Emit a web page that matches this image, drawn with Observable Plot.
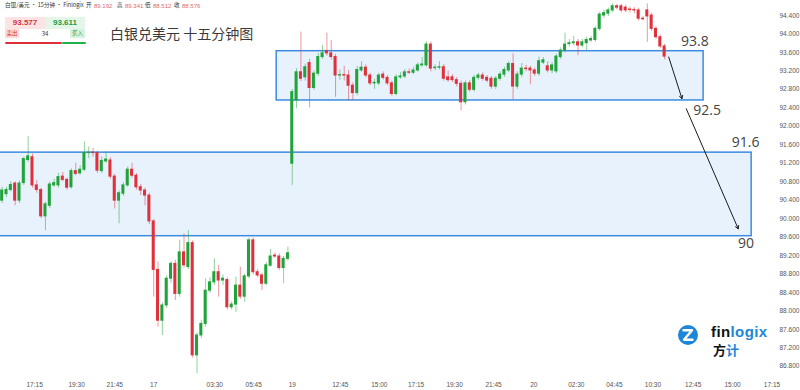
<!DOCTYPE html>
<html><head><meta charset="utf-8">
<script src="https://cdn.jsdelivr.net/npm/d3@7"></script>
<script src="https://cdn.jsdelivr.net/npm/@observablehq/plot@0.6"></script>
<style>
body{margin:0;background:#fff;font-family:"Noto Sans CJK SC","Noto Sans",sans-serif}
#wrap{position:relative;width:800px;height:390px;overflow:hidden;background:#fff}
.abs{position:absolute;white-space:nowrap;line-height:1}
</style></head><body>
<div id="wrap"></div>
<script>
// 15-minute candles (index order)
const opens=[90.39,90.53,90.62,90.76,90.39,90.77,91.27,91.33,90.72,90.62,90.05,90.28,90.72,90.72,90.91,90.84,90.68,91.03,90.98,91.06,91.42,91.43,91.42,91.03,91.24,91.26,90.91,90.39,90.54,90.72,91.06,90.93,90.68,90.61,90.50,89.94,
88.89,87.79,88.12,88.70,89.02,88.37,89.27,88.95,89.47,87.04,87.47,87.72,88.44,88.62,88.84,88.66,88.67,88.08,88.14,88.55,88.31,88.75,89.53,88.84,88.77,88.59,88.98,89.20,89.18,88.93,89.13,
91.19,92.56,93.17,93.06,93.37,92.83,93.14,93.50,93.63,93.58,93.50,93.10,93.11,93.10,92.88,92.72,93.21,93.27,93.10,92.93,92.93,93.12,93.05,92.93,92.70,93.06,93.08,93.17,93.16,93.21,93.32,93.32,93.77,93.26,93.27,93.28,93.06,93.06,93.00,92.92,92.52,92.93,92.79,93.05,
93.10,93.05,93.03,92.86,93.03,93.12,93.21,93.35,92.86,93.12,93.25,93.25,93.21,93.14,93.38,93.30,93.21,93.19,93.50,93.64,93.78,93.80,93.82,93.75,93.80,93.86,93.87,94.11,94.40,94.44,94.51,94.60,94.60,94.57,94.53,94.52,94.51,94.33,94.51,94.40,94.11,93.93,93.73];
const highs=[90.68,90.68,90.80,90.80,90.82,91.33,91.78,91.40,90.83,90.66,90.36,90.79,90.85,90.98,91.00,90.88,91.08,91.20,91.15,91.66,91.55,91.52,91.46,91.34,91.45,91.32,90.96,90.60,90.78,91.12,91.20,90.98,90.74,90.66,90.55,89.98,
89.06,88.18,88.76,89.07,89.10,89.53,89.67,89.74,89.52,87.53,87.80,88.70,88.72,89.13,88.99,88.78,88.72,88.20,88.73,88.95,88.80,89.58,89.58,88.90,88.82,89.05,89.33,89.26,89.24,89.18,89.38,
92.80,93.25,94.04,93.35,93.45,93.20,93.58,93.75,94.02,93.86,93.56,93.22,93.30,93.21,92.94,93.30,93.40,93.33,93.15,93.02,93.15,93.18,93.10,92.98,93.12,93.16,93.23,93.24,93.28,93.38,93.49,93.83,93.83,93.33,93.40,93.34,93.20,93.12,93.06,92.98,92.98,92.99,93.10,93.15,
93.16,93.10,93.08,93.08,93.18,93.28,93.40,93.57,93.18,93.36,93.32,93.30,93.26,93.50,93.49,93.40,93.38,93.56,93.70,94.02,93.88,93.95,93.88,93.88,93.93,93.95,94.16,94.47,94.52,94.56,94.65,94.64,94.64,94.62,94.58,94.57,94.56,94.38,94.65,94.45,94.16,93.98,93.78];
const lows=[90.33,90.46,90.58,90.28,90.33,90.72,91.22,90.66,90.55,90.00,89.74,90.22,90.68,90.66,90.80,90.62,90.64,90.93,90.94,91.02,91.30,91.33,90.98,90.98,91.20,90.86,90.21,89.89,90.48,90.68,90.88,90.62,90.50,90.28,89.87,88.30,
87.65,87.47,88.06,88.60,88.23,88.30,88.93,88.90,86.98,86.64,87.40,87.65,88.38,88.55,88.30,88.55,88.02,88.02,87.97,88.25,88.19,88.70,88.78,88.72,88.44,88.55,88.95,89.14,88.88,88.59,89.08,
90.72,92.38,92.97,92.98,92.40,92.78,93.08,93.45,93.52,93.44,92.63,93.00,92.98,92.56,92.56,92.66,93.17,93.05,92.88,92.80,92.88,93.00,92.88,92.65,92.66,93.02,93.03,93.12,93.12,93.17,93.28,93.28,93.18,93.20,93.22,92.98,92.95,92.95,92.85,92.34,92.46,92.74,92.74,93.00,
92.98,92.94,92.80,92.80,92.98,93.06,93.16,92.58,92.80,93.06,93.18,92.90,93.08,93.08,93.34,93.16,93.14,93.14,93.45,93.59,93.72,93.75,93.53,93.70,93.64,93.82,93.82,94.06,94.34,94.38,94.46,94.52,94.46,94.46,94.46,94.44,94.28,94.28,93.82,94.05,93.88,93.68,93.44];
const closes=[90.61,90.62,90.73,90.39,90.76,91.29,91.35,90.72,90.62,90.05,90.31,90.74,90.77,90.90,90.84,90.67,91.03,90.97,91.06,91.42,91.43,91.42,91.04,91.25,91.28,90.91,90.39,90.55,90.72,91.06,90.93,90.68,90.61,90.50,89.94,88.89,
87.79,88.12,88.70,89.02,88.37,89.27,88.99,89.47,87.04,87.47,87.72,88.44,88.62,88.84,88.66,88.70,88.08,88.14,88.55,88.31,88.75,89.53,88.84,88.77,88.59,88.99,89.18,89.18,88.93,89.13,89.25,
92.74,93.17,93.03,93.28,92.83,93.14,93.50,93.58,93.58,93.50,93.10,93.11,93.10,92.88,92.72,93.22,93.27,93.10,92.93,92.94,93.10,93.05,92.93,92.70,93.06,93.08,93.17,93.16,93.21,93.32,93.34,93.77,93.25,93.27,93.28,93.03,93.00,93.00,92.92,92.52,92.93,92.79,93.05,93.10,
93.03,92.99,92.86,93.03,93.12,93.22,93.35,92.86,93.12,93.25,93.24,93.21,93.14,93.41,93.43,93.21,93.32,93.51,93.64,93.77,93.80,93.82,93.75,93.82,93.87,93.89,94.11,94.42,94.45,94.51,94.60,94.57,94.51,94.51,94.52,94.51,94.33,94.32,94.38,94.11,93.93,93.73,93.51];

// axis ticks
const yTicks=[86.8,87.2,87.6,88.0,88.4,88.8,89.2,89.6,90.0,90.4,90.8,91.2,91.6,92.0,92.4,92.8,93.2,93.6,94.0,94.4];
const xTickIndex=[7.5,17.2,26.0,35.0,49.1,58.1,67.0,78.1,87.1,95.6,104.5,113.5,122.8,132.6,141.4,150.3,159.6,168.7,177.8];
const xTickLabels=["17:15","19:30","21:45","17","03:30","05:45","19","12:45","15:00","17:15","19:30","21:45","20","02:30","04:45","10:30","12:45","15:00","17:15"];

// annotation zones (candle index / price)
const zoneX1=[63.4,-1.5];
const zoneX2=[162.0,173.1];
const zoneLow=[92.56,89.62];
const zoneHigh=[93.627,91.43];
// arrows
const arrowX1=[153.95,158.0];
const arrowY1=[93.50,92.38];
const arrowX2=[157.0,170.0];
const arrowY2=[92.60,89.78];
// level labels
const levelText=["93.8","92.5","91.6","90"];
const levelX=[160.0,162.8,171.7,171.8];
const levelY=[93.83,92.34,91.64,89.455];

const UP="#1fa33a", DOWN="#e0303b";
const candles=opens.map((o,i)=>({i,o,h:highs[i],l:lows[i],c:closes[i]}));
const zones=zoneX1.map((x1,k)=>({x1,x2:zoneX2[k],y1:zoneLow[k],y2:zoneHigh[k]}));
const arrows=arrowX1.map((x1,k)=>({x1,y1:arrowY1[k],x2:arrowX2[k],y2:arrowY2[k]}));
const levels=levelText.map((t,k)=>({t,x:levelX[k],y:levelY[k]}));
const tickMap=new Map(xTickIndex.map((v,k)=>[v,xTickLabels[k]]));

const chart=Plot.plot({
  width:800,height:390,
  marginLeft:0,marginRight:22,marginTop:0,marginBottom:18,
  style:{background:"#fff",fontFamily:"'Liberation Sans',Arial,sans-serif"},
  x:{domain:[-0.385,179.3],axis:null},
  y:{domain:[86.668,94.725],axis:null},
  color:{type:"identity"},
  marks:[
    Plot.rect(zones,{x1:"x1",x2:"x2",y1:"y1",y2:"y2",fill:"#e8f2fc",stroke:"#3a8ce0",strokeWidth:1.5}),
    Plot.ruleX(candles,{x:"i",y1:"l",y2:"h",stroke:d=>d.c>=d.o?UP:DOWN,strokeOpacity:0.5,strokeWidth:1}),
    Plot.rect(candles,{x1:d=>d.i-0.35,x2:d=>d.i+0.35,y1:d=>Math.min(d.o,d.c),y2:d=>Math.max(d.o,d.c),
      fill:d=>d.c>=d.o?UP:DOWN,insetTop:-0.5,insetBottom:-0.5}),
    Plot.arrow(arrows,{x1:"x1",y1:"y1",x2:"x2",y2:"y2",stroke:"#1a1a1a",strokeWidth:1,headLength:5}),
    Plot.text(levels,{x:"x",y:"y",text:"t",fontSize:14,fill:"#444",fontFamily:"'Open Sans','Noto Sans',sans-serif"}),
    Plot.axisY({anchor:"right",ticks:yTicks,tickSize:0,tickPadding:1,tickFormat:d3.format(".3f"),fontSize:6.5,fill:"#555"}),
    Plot.axisX({anchor:"bottom",ticks:xTickIndex,tickSize:0,tickPadding:10,tickFormat:d=>tickMap.get(d),fontSize:6.5,fill:"#555"})
  ]
});
const wrap=document.getElementById("wrap");
wrap.appendChild(chart);

function add(html,style){const d=document.createElement("div");d.className="abs";d.innerHTML=html;Object.assign(d.style,style);wrap.appendChild(d);return d;}
// header line
add("白银/美元 · 15分钟 · Finlogix",{left:"5px",top:"2.5px",fontSize:"5.6px",color:"#333",fontFamily:"'Noto Sans CJK SC','Liberation Sans',sans-serif"});
const hdr=[["开",86,"89.192",94],["高",117,"89.341",125],["低",145,"88.512",153],["收",174,"88.576",182]];
hdr.forEach(([k,kx,v,vx])=>{add(k,{left:kx+"px",top:"2.5px",fontSize:"5.6px",color:"#333"});add(v,{left:vx+"px",top:"2.5px",fontSize:"6px",color:"#e06a6a",fontFamily:"'Liberation Sans',Arial"});});
// bid/ask
add("93.577",{left:"5px",top:"17px",width:"40px",height:"12px",lineHeight:"12px",textAlign:"center",background:"#fde4e4",color:"#d6343c",fontSize:"8px",fontWeight:"bold",fontFamily:"'Liberation Sans',Arial"});
add("93.611",{left:"45px",top:"17px",width:"40px",height:"12px",lineHeight:"12px",textAlign:"center",background:"#e4f6e8",color:"#1c9c3c",fontSize:"8px",fontWeight:"bold",fontFamily:"'Liberation Sans',Arial"});
add("卖出",{left:"5px",top:"29px",width:"14px",height:"9px",lineHeight:"9px",textAlign:"center",background:"#fbdcdc",color:"#d6343c",fontSize:"5.5px"});
add("34",{left:"38px",top:"29px",width:"14px",height:"9px",lineHeight:"9px",textAlign:"center",color:"#333",fontSize:"6px"});
add("买入",{left:"70px",top:"29px",width:"15px",height:"9px",lineHeight:"9px",textAlign:"center",background:"#d8f1de",color:"#1c9c3c",fontSize:"5.5px"});
add("",{left:"5px",top:"41.5px",width:"57px",height:"2.6px",background:"#df2f38",borderRadius:"1px"});
add("",{left:"62px",top:"41.5px",width:"24px",height:"2.6px",background:"#22b04a",borderRadius:"1px"});
// title
add("白银兑美元 十五分钟图",{left:"110px",top:"26px",fontSize:"14px",color:"#3a3a3a",fontFamily:"'Noto Sans CJK SC',sans-serif"});
// logo
add('<svg width="22" height="22" viewBox="0 0 22 22"><circle cx="11" cy="11" r="10" fill="#1d86d9"/><path d="M6.5 6.3 H15 L7 15.7 H15.5" fill="none" stroke="#fff" stroke-width="2.4" stroke-linejoin="round" stroke-linecap="round"/></svg>',{left:"677px",top:"324px"});
add('<span style="color:#111">fin</span><span style="color:#1d86d9">logix</span>',{left:"711px",top:"324px",fontSize:"15px",lineHeight:"15px",height:"15px",fontWeight:"bold",letterSpacing:"0.4px",fontFamily:"'Liberation Sans',Arial"});
add('<span style="color:#111">方</span><span style="color:#1d86d9">计</span>',{left:"713px",top:"343px",fontSize:"13px",lineHeight:"13px",height:"13px",fontWeight:"bold",fontFamily:"'Noto Sans CJK SC',sans-serif"});
</script>
</body></html>
